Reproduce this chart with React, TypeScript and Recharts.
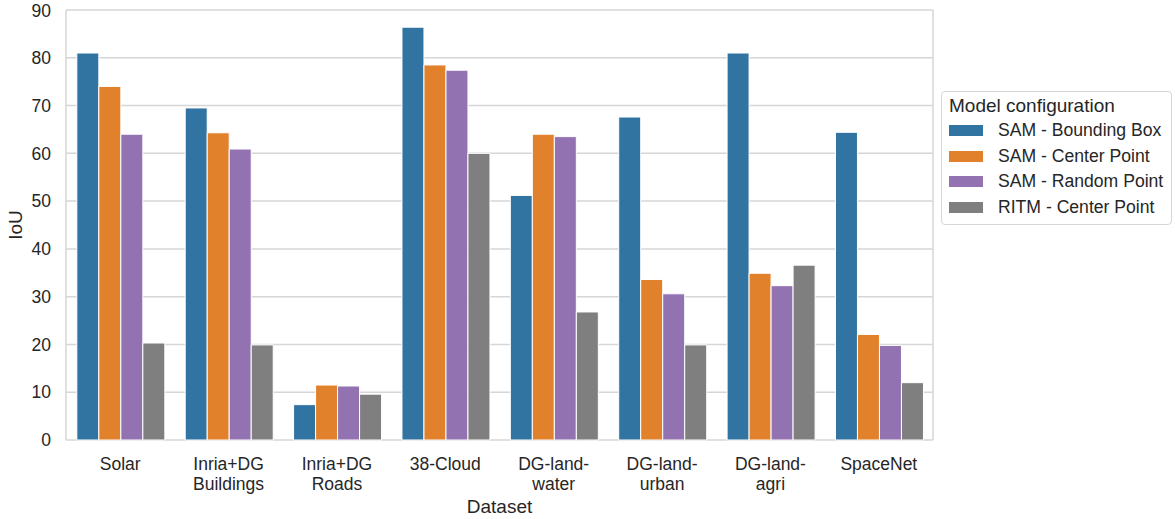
import { BarChart, Bar, XAxis, YAxis, CartesianGrid, Legend } from 'recharts';

const datasets = [
  'Solar',
  'Inria+DG\nBuildings',
  'Inria+DG\nRoads',
  '38-Cloud',
  'DG-land-\nwater',
  'DG-land-\nurban',
  'DG-land-\nagri',
  'SpaceNet',
];

const samBox = [81.0, 69.5, 7.4, 86.4, 51.2, 67.6, 81.0, 64.4];
const samCenter = [74.0, 64.3, 11.5, 78.5, 64.0, 33.6, 34.9, 22.1];
const samRandom = [64.0, 60.9, 11.3, 77.4, 63.5, 30.6, 32.3, 19.8];
const ritmCenter = [20.3, 19.9, 9.6, 60.0, 26.8, 19.9, 36.6, 12.0];

const yTicks = [0, 10, 20, 30, 40, 50, 60, 70, 80, 90];

const series = [
  { key: 'samBox', name: 'SAM - Bounding Box', color: '#3274a1' },
  { key: 'samCenter', name: 'SAM - Center Point', color: '#e1812c' },
  { key: 'samRandom', name: 'SAM - Random Point', color: '#9372b2' },
  { key: 'ritmCenter', name: 'RITM - Center Point', color: '#7f7f7f' },
];

const chartData = datasets.map((d, i) => ({
  dataset: d,
  samBox: samBox[i],
  samCenter: samCenter[i],
  samRandom: samRandom[i],
  ritmCenter: ritmCenter[i],
}));

const FONT = '"Liberation Sans", Arial, Helvetica, sans-serif';
const TEXT = '#262626';
const GRID = '#d6d6d6';

// two-line category labels
const DatasetTick = ({ x, y, payload }: any) => {
  const lines = String(payload.value).split('\n');
  return (
    <text x={x} y={y} textAnchor="middle" fill={TEXT} fontSize={17.5} fontFamily={FONT}>
      {lines.map((line, i) => (
        <tspan key={i} x={x} dy={i === 0 ? 30 : 20}>
          {line}
        </tspan>
      ))}
    </text>
  );
};

const IoULabel = ({ viewBox }: any) => {
  const cx = 15;
  const cy = viewBox.y + viewBox.height / 2;
  return (
    <text
      x={cx}
      y={cy}
      transform={`rotate(-90 ${cx} ${cy})`}
      textAnchor="middle"
      dominantBaseline="central"
      fill={TEXT}
      fontSize={19}
      fontFamily={FONT}
    >
      IoU
    </text>
  );
};

const DatasetLabel = ({ viewBox }: any) => {
  const cx = viewBox.x + viewBox.width / 2;
  return (
    <text x={cx} y={513} textAnchor="middle" fill={TEXT} fontSize={19} fontFamily={FONT}>
      Dataset
    </text>
  );
};

const LegendBox = () => (
  <div
    style={{
      width: 231,
      height: 134,
      border: '1px solid #d6d6d6',
      borderRadius: 4,
      background: '#fff',
      fontFamily: FONT,
      color: TEXT,
      boxSizing: 'border-box',
      padding: '2px 0 0 7px',
    }}
  >
    <div style={{ fontSize: 19, lineHeight: '24px' }}>Model configuration</div>
    {series.map((s) => (
      <div key={s.key} style={{ display: 'flex', alignItems: 'center', height: 25.5 }}>
        <span style={{ width: 34, height: 11, background: s.color, display: 'inline-block' }} />
        <span style={{ fontSize: 17.6, marginLeft: 15 }}>{s.name}</span>
      </div>
    ))}
  </div>
);

export default function App() {
  return (
    <div style={{ position: 'absolute', left: 0, top: 0, background: '#fff' }}>
      <BarChart
        width={1175}
        height={519}
        data={chartData}
        margin={{ top: 10, right: 11, bottom: 0, left: 0 }}
        barCategoryGap="10%"
        barGap={0}
      >
        <CartesianGrid
          stroke={GRID}
          strokeWidth={1.5}
          verticalCoordinatesGenerator={({ offset }: any) => [offset.left, offset.left + offset.width]}
        />
        <XAxis
          dataKey="dataset"
          height={79}
          axisLine={false}
          tickLine={false}
          tickSize={0}
          tickMargin={0}
          interval={0}
          tick={<DatasetTick />}
          label={<DatasetLabel />}
        />
        <YAxis
          width={66}
          domain={[0, 90]}
          ticks={yTicks}
          axisLine={false}
          tickLine={false}
          tickSize={0}
          tickMargin={15}
          tick={{ fill: TEXT, fontSize: 17.5, fontFamily: FONT }}
          label={<IoULabel />}
        />
        <Legend
          layout="vertical"
          verticalAlign="top"
          align="right"
          wrapperStyle={{ position: 'absolute', left: 941, top: 91, width: 231 }}
          content={() => <LegendBox />}
        />
        {series.map((s) => (
          <Bar
            key={s.key}
            dataKey={s.key}
            name={s.name}
            fill={s.color}
            stroke="#ffffff"
            strokeWidth={1}
            isAnimationActive={false}
          />
        ))}
      </BarChart>
    </div>
  );
}
